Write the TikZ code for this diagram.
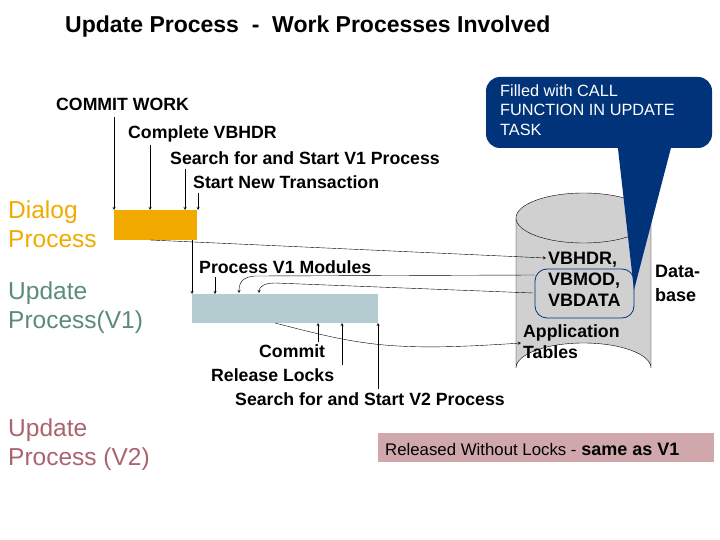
\documentclass[tikz,border=0pt]{standalone}
\usepackage{fontspec}
\setmainfont{Liberation Sans}
\usetikzlibrary{positioning}
\definecolor{dialogc}{RGB}{240,170,0}
\definecolor{vonec}{RGB}{180,204,208}
\definecolor{vonetext}{RGB}{90,140,120}
\definecolor{vtwotext}{RGB}{170,100,110}
\definecolor{pinkc}{RGB}{208,168,172}
\definecolor{dbc}{RGB}{208,208,208}
\definecolor{navyc}{RGB}{0,51,122}
\begin{document}
\begin{tikzpicture}[x=1pt, y=-1pt, >=stealth,
    lbl/.style={font=\bfseries\fontsize{17.7}{20}\selectfont, anchor=west, inner sep=0pt},
    side/.style={font=\fontsize{24.5}{29}\selectfont, anchor=west, align=left, inner sep=0pt},
    stp/.style={->, thin}]

	% frame of the picture
	\useasboundingbox (0,0) rectangle (720,540);

	\node[anchor=west, inner sep=0pt, font=\bfseries\fontsize{23}{27}\selectfont] (title) at (65,27) {Update Process\ \ -\ \ Work Processes Involved};

	% process labels on the left
	\node[side, text=dialogc] (dlg) at (8,224) {Dialog\\Process};
	\node[side, text=vonetext] (vone) at (8,308) {Update\\Process(V1)};
	\node[side, text=vtwotext] (vtwo) at (8,445) {Update\\Process (V2)};

	% the two work process bars
	\fill[dialogc] (114,210) rectangle (197,240);
	\fill[vonec] (192,294) rectangle (378,323);

	% database cylinder
	\draw[fill=dbc] (516,218) -- (516,368) arc[start angle=180, end angle=360, x radius=67.5, y radius=25] -- (651,218);
	\draw[fill=dbc] (583.5,218) ellipse[x radius=67.5, y radius=25];

	% callout
	\fill[navyc] (617,140) -- (634,290) -- (673,140) -- cycle;
	\fill[navyc, rounded corners=14pt] (486,77) rectangle (712,148);
	\node[anchor=north west, align=left, text=white, font=\fontsize{16.3}{19.5}\selectfont, inner sep=0pt] (call) at (500,84) {Filled with CALL\\FUNCTION IN UPDATE\\TASK};

	% database contents
	\draw[navyc, thick, rounded corners=12pt] (535,269) rectangle (634,318);
	\node[lbl, align=left, font=\bfseries\fontsize{18}{21}\selectfont, anchor=north west] (vbtab) at (548,252) {VBHDR,\\VBMOD,\\VBDATA};
	\coordinate (vbhdr) at (546,258);
	\node[lbl, align=left, anchor=north west, font=\bfseries\fontsize{17.7}{21}\selectfont] (apptab) at (523,324) {Application\\Tables};
	\node[lbl, align=left, font=\bfseries\fontsize{18}{24}\selectfont, anchor=north west] (dbase) at (655,265) {Data-\\base};

	% steps of the dialog process
	\node[lbl] (cw) at (56,104) {COMMIT WORK};
	\node[lbl] (cv) at (128,134) {Complete VBHDR};
	\node[lbl] (sv) at (170,158) {Search for and Start V1 Process};
	\node[lbl] (sn) at (193,182) {Start New Transaction};
	\draw[stp] (114,117) -- (114,210);
	\draw[stp] (150,145) -- (150,210);
	\draw[stp] (185,169) -- (185,210);
	\draw[stp] (198,193) -- (198,210);

	% data flow
	\draw[->] (150,240) -- (vbhdr);
	\draw[->] (192,240) -- (192,294);
	\node[lbl] (pm) at (199,267) {Process V1 Modules};
	\draw[stp] (215,277) -- (215,294);
	\draw[->] (535,275) -- (255,276) .. controls (243,277) and (239,282) .. (239,293);
	\draw[->] (533,293) -- (275,283) .. controls (264,283) and (259,287) .. (259,293);
	\draw[->] (275,323) .. controls (360,345) and (390,352) .. (521,343);

	% steps of the V1 process
	\node[lbl] (cm) at (259,351) {Commit};
	\node[lbl] (rl) at (211,375) {Release Locks};
	\node[lbl] (s2) at (235,399) {Search for and Start V2 Process};
	\draw[stp] (318,342) -- (318,323);
	\draw[stp] (342,365) -- (342,323);
	\draw[stp] (378,389) -- (378,323);

	% V2 note
	\fill[pinkc] (378,433) rectangle (714,462);
	\node[anchor=west, inner sep=0pt] (note) at (385,449) {\fontsize{16.8}{18}\selectfont Released Without Locks - \bfseries\fontsize{18}{20}\selectfont same as V1};
\end{tikzpicture}
\end{document}
